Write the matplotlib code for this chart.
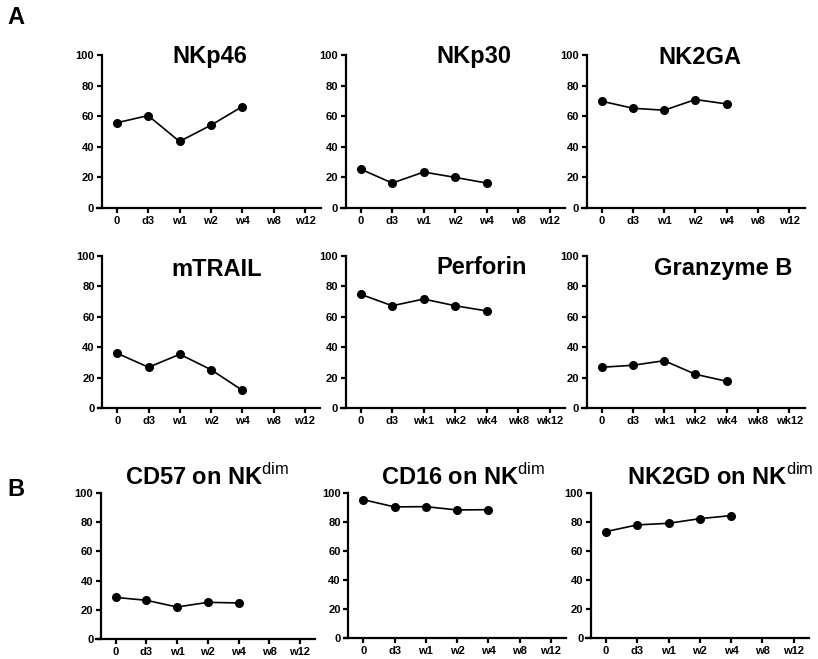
import matplotlib
matplotlib.use("Agg")
import matplotlib.pyplot as plt

plt.rcParams['font.family'] = ['Liberation Sans', 'DejaVu Sans']
plt.rcParams['mathtext.fontset'] = 'custom'
plt.rcParams['mathtext.rm'] = 'Liberation Sans'
plt.rcParams['mathtext.bf'] = 'Liberation Sans:bold'

W, H = 818, 659

# time points
days_w = ['0', 'd3', 'w1', 'w2', 'w4', 'w8', 'w12']
days_wk = ['0', 'd3', 'wk1', 'wk2', 'wk4', 'wk8', 'wk12']

# % positive at each time point (only first five measured)
nkp46 = [55.7, 60.4, 43.5, 54.1, 66.3]
nkp30 = [25.4, 16.3, 23.5, 20.0, 16.3]
nk2ga = [69.8, 65.2, 63.9, 70.9, 68.0]
mtrail = [36.0, 26.9, 35.4, 25.3, 11.8]
perforin = [74.7, 67.2, 71.6, 67.2, 63.8]
granzyme_b = [26.9, 28.2, 31.2, 22.3, 17.7]
cd57_dim = [28.5, 26.5, 21.9, 25.1, 24.7]
cd16_dim = [95.4, 90.4, 90.6, 88.3, 88.5]
nk2gd_dim = [73.4, 78.0, 79.1, 82.3, 84.4]

# (title, values, ticklabels, tick0 px, spacing px, top px, bottom px, title x px, title y px)
panels = [
    ('NKp46', nkp46, days_w, 116.7, 31.4, 55, 208, 210, 57),
    ('NKp30', nkp30, days_w, 360.7, 31.5, 55, 208, 474, 57),
    ('NK2GA', nk2ga, days_w, 601.7, 31.25, 55, 208, 700, 57),
    ('mTRAIL', mtrail, days_w, 117.3, 31.25, 255.7, 408.3, 217, 270),
    ('Perforin', perforin, days_wk, 360.7, 31.5, 255.7, 408.3, 482, 268),
    ('Granzyme B', granzyme_b, days_wk, 601.7, 31.25, 255.7, 408.3, 723, 268),
    ('CD57 on NK$^{\\mathrm{dim}}$', cd57_dim, days_w, 115.7, 30.7, 493, 639, 207, 477),
    ('CD16 on NK$^{\\mathrm{dim}}$', cd16_dim, days_w, 363.3, 31.25, 493, 638, 463, 477),
    ('NK2GD on NK$^{\\mathrm{dim}}$', nk2gd_dim, days_w, 606, 31.25, 493, 638, 720, 477),
]

XL, XR = -0.63, 6.5
YAX = -0.48

fig = plt.figure(figsize=(W / 100, H / 100), dpi=100)

for i, (title, vals, labels, x0, s, top, bot, tx, ty) in enumerate(panels):
    left = x0 + XL * s
    width = (XR - XL) * s
    ax = fig.add_axes([left / W, 1 - bot / H, width / W, (bot - top) / H])
    ax.plot(range(len(vals)), vals, color='black', lw=1.2, marker='o', ms=5.5)
    ax.set_xlim(XL, XR)
    ax.set_ylim(0, 100)
    ax.set_xticks(range(len(labels)))
    ax.set_xticklabels(labels)
    ax.set_yticks(range(0, 101, 20))
    for side in ('top', 'right'):
        ax.spines[side].set_visible(False)
    ax.spines['left'].set_position(('data', YAX))
    for side in ('left', 'bottom'):
        ax.spines[side].set_linewidth(1.6)
    ax.tick_params(width=1.6, length=3.5, labelsize=8, pad=2)
    for lab in ax.get_xticklabels() + ax.get_yticklabels():
        lab.set_fontweight('bold')
    fig.text(tx / W, 1 - ty / H, title, ha='center', va='center',
             fontsize=17, fontweight='bold')

fig.text(16 / W, 1 - 18 / H, 'A', ha='center', va='center', fontsize=17, fontweight='bold')
fig.text(16 / W, 1 - 490 / H, 'B', ha='center', va='center', fontsize=17, fontweight='bold')

fig.savefig('out.png', dpi=100)
